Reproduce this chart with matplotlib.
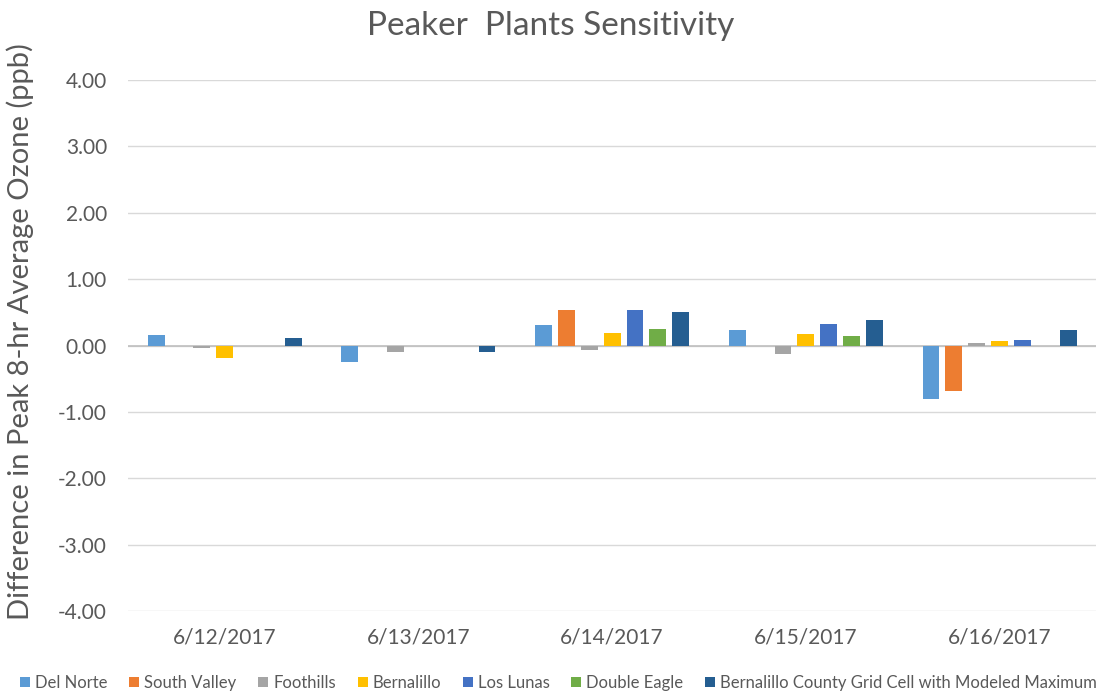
import matplotlib.pyplot as plt
import numpy as np

dates = ['6/12/2017', '6/13/2017', '6/14/2017', '6/15/2017', '6/16/2017']
series_names = ['Del Norte', 'South Valley', 'Foothills', 'Bernalillo', 'Los Lunas',
                'Double Eagle', 'Bernalillo County Grid Cell with Modeled Maximum']
del_norte = [0.16, -0.25, 0.31, 0.23, -0.80]
south_valley = [0.0, 0.0, 0.53, 0.0, -0.68]
foothills = [-0.03, -0.10, -0.06, -0.12, 0.04]
bernalillo = [-0.19, 0.0, 0.19, 0.17, 0.07]
los_lunas = [0.0, 0.0, 0.53, 0.32, 0.09]
double_eagle = [0.0, 0.0, 0.25, 0.15, 0.0]
bc_max = [0.12, -0.10, 0.51, 0.38, 0.24]
colors = ['#5B9BD5', '#ED7D31', '#A5A5A5', '#FFC000', '#4472C4', '#70AD47', '#255E91']

plt.rcParams['font.family'] = ['Lato', 'DejaVu Sans']
fig = plt.figure(figsize=(11.02, 6.94), dpi=100)
ax = fig.add_axes([0.116, 0.1196, 0.879, 0.765])

all_series = [del_norte, south_valley, foothills, bernalillo, los_lunas, double_eagle, bc_max]
x = np.arange(len(dates))
pitch = 0.118
width = 0.087
for i, (vals, name, c) in enumerate(zip(all_series, series_names, colors)):
    ax.bar(x + (i - 3) * pitch, vals, width=width, color=c, label=name, zorder=3)

ax.set_xlim(-0.5, 4.5)
ax.set_ylim(-4, 4)
ax.set_yticks(np.arange(-4, 5, 1))
ax.set_yticklabels(['%.2f' % v for v in np.arange(-4, 5, 1)])
ax.set_xticks(x)
ax.set_xticklabels(dates)
ax.grid(axis='y', color='#d9d9d9', linewidth=1, zorder=0)
ax.axhline(0, color='#bfbfbf', linewidth=1.2, zorder=2)
for s in ax.spines.values():
    s.set_visible(False)
ax.tick_params(axis='both', length=0, labelsize=15, labelcolor='#595959')
ax.tick_params(axis='x', pad=12)
ax.tick_params(axis='y', pad=15)
ax.set_ylabel('Difference in Peak 8-hr Average Ozone (ppb)', fontsize=21, color='#595959')
ax.yaxis.set_label_coords(-0.097, 0.527)
fig.text(0.5, 0.962, 'Peaker  Plants Sensitivity', ha='center', va='center', fontsize=24, color='#595959')

leg = fig.legend(loc='center', bbox_to_anchor=(0.507, 0.016), ncol=7, frameon=False, fontsize=12,
                 handlelength=0.6, handleheight=0.6, handletextpad=0.3, columnspacing=1.3)
for t in leg.get_texts():
    t.set_color('#595959')

plt.savefig('out.png', dpi=100)
